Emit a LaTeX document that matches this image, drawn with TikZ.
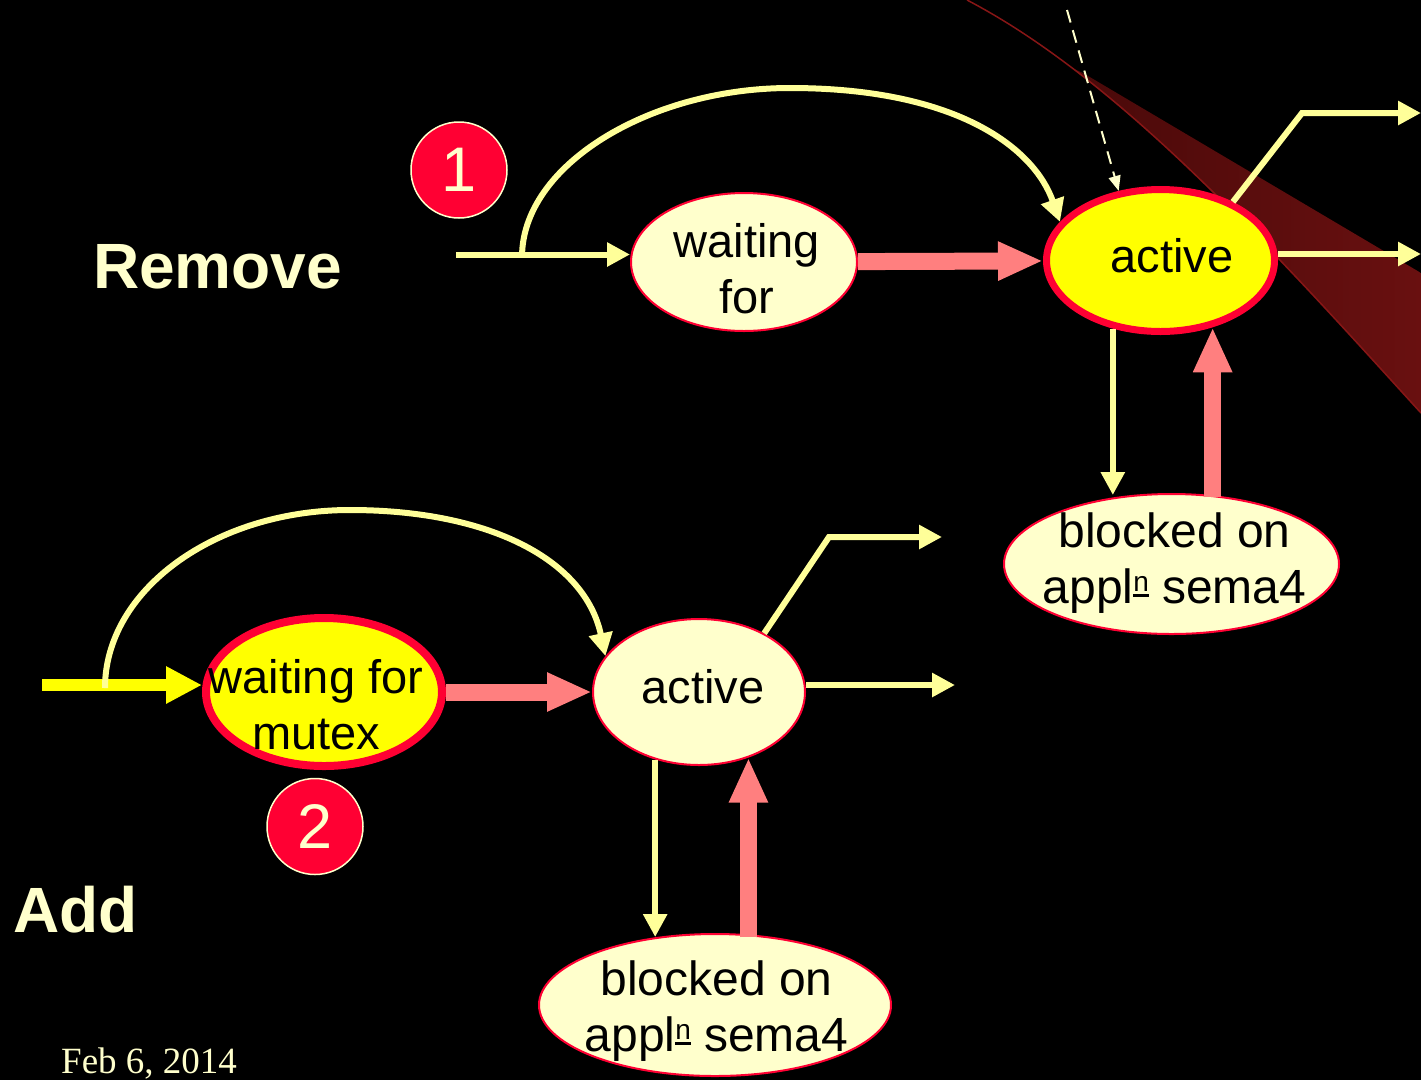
\documentclass[tikz,border=0pt]{standalone}
\usepackage{fontspec}
\setmainfont{Liberation Sans}
\newfontfamily\datefont{Liberation Serif}
\usetikzlibrary{arrows.meta,shapes.geometric}

\definecolor{cream}{HTML}{FFFFCC}
\definecolor{creamarrow}{HTML}{FFFF99}
\definecolor{alertred}{HTML}{FF0033}
\definecolor{pinkarrow}{HTML}{FF7F7F}
\definecolor{brightyellow}{HTML}{FFFF00}
\definecolor{swooshdark}{RGB}{58,6,6}
\definecolor{swooshlight}{RGB}{105,16,16}
\definecolor{swooshline}{RGB}{135,22,22}

% raised, underlined "n" of appl^n
\newcommand\applsup{\raisebox{12pt}{\fontsize{28}{28}\selectfont\setbox0\hbox{n}\rlap{\rule[-5.5pt]{\wd0}{3pt}}n}}

\tikzset{
  statebox/.style={ellipse, draw=alertred, fill=cream, line width=2pt, inner sep=0pt},
  hotstate/.style={statebox, fill=brightyellow, line width=7pt},
  statetext/.style={font=\fontsize{47}{56}\selectfont, align=center, inner sep=0pt, text=black},
  heading/.style={font=\bfseries\fontsize{64}{64}\selectfont, text=cream, anchor=base west, inner sep=0pt},
  badge/.style={circle, fill=alertred, draw=cream, line width=1.5pt, minimum size=96pt,
    inner sep=0pt, text=cream, font=\fontsize{63}{63}\selectfont},
  flow/.style={draw=creamarrow, line width=6pt, -{Triangle[length=23pt,width=23pt]}},
  bigflow/.style={draw=pinkarrow, line width=17pt, -{Triangle[length=45pt,width=36pt]}},
  entryflow/.style={draw=brightyellow, line width=12pt, -{Triangle[length=36pt,width=35pt]}},
  hintflow/.style={draw=cream, line width=2pt, dash pattern=on 13pt off 8pt,
    -{Triangle[length=15pt,width=12pt]}},
}

\begin{document}
\begin{tikzpicture}[x=1pt,y=-1pt]
\useasboundingbox (0,0) rectangle (1421,1080);
\fill[black] (0,0) rectangle (1421,1080);

% decorative swoosh
\begin{scope}
  \clip (967,0) .. controls (1120,80) and (1271,248) .. (1421,413) -- (1421,0) -- cycle;
  \shade[left color=swooshdark, right color=swooshlight]
    (900,-10) -- (1083,73) -- (1421,273) -- (1421,500) -- (900,500) -- cycle;
\end{scope}
\draw[swooshline, line width=1.5pt] (967,0) .. controls (1120,80) and (1271,248) .. (1421,413);

% headings and date
\node[heading] (remove) at (93,288) {Remove};
\node[heading] (add) at (13,932) {Add};
\node[font=\datefont\fontsize{37}{37}\selectfont, text=cream, anchor=base west, inner sep=0pt]
  (date) at (61,1073) {Feb 6, 2014};

% badges
\node[badge] (n1) at (459,170) {1};
\node[badge] (n2) at (315,826.5) {2};

% Remove: states
\node[statebox, minimum width=226pt, minimum height=138pt] (w1) at (744,262) {};
\node[hotstate, minimum width=228pt, minimum height=142pt] (a1) at (1160.5,260.5) {};
\node[statebox, minimum width=335pt, minimum height=140pt] (b1) at (1171.5,564) {};
\node[statetext] (w1t) at (747,269) {waiting\\for};
\node[statetext, anchor=base] (a1t) at (1172,272) {active};
\node[statetext, font=\fontsize{48}{56}\selectfont] (b1t) at (1174.5,563) {blocked on\\appl\applsup{} sema4};

% Add: states
\node[hotstate, line width=8pt, minimum width=236pt, minimum height=148pt] (m2) at (324,692) {};
\node[statebox, minimum width=212pt, minimum height=146pt] (a2) at (699,692) {};
\node[statebox, minimum width=352pt, minimum height=142pt] (b2) at (715,1005) {};
\node[statetext] (m2t) at (316,704.5) {waiting for\\mutex};
\node[statetext, anchor=base] (a2t) at (703,703) {active};
\node[statetext, font=\fontsize{48}{56}\selectfont] (b2t) at (716.5,1011) {blocked on\\appl\applsup{} sema4};

% Remove: transitions
\coordinate (in1) at (456,254.5);
\coordinate (j1) at (522,257);
\draw[flow] (in1) -- (in1 -| w1.west);
\draw[flow] (j1) .. controls (522,165) and (650,88) .. (790,88)
  .. controls (960,88) and (1035,150) .. (a1.159);
\draw[bigflow] (w1) -- (a1);
\coordinate (d0) at (1067,10);
\draw[hintflow] (d0) -- (a1.121);
\coordinate (o1a) at (1302,113);
\coordinate (o1b) at (1421,113);
\draw[flow] (a1.39) -- (o1a) -- (o1b);
\coordinate (o2) at (1421,254);
\draw[flow] (o2 -| a1.east) -- (o2);
\draw[flow] (a1.235) -- ([yshift=-2pt]a1.235 |- b1.north);
\draw[bigflow] ([yshift=-4pt]a1.308 |- b1.north) -- (a1.308);

% Add: transitions
\coordinate (in2) at (42,685);
\coordinate (j2) at (105,688);
\draw[entryflow] (in2) -- (in2 -| m2.west);
\draw[flow] (j2) .. controls (105,590) and (215,510) .. (350,510)
  .. controls (490,510) and (585,560) .. (a2.159);
\draw[bigflow] (m2) -- (a2);
\coordinate (o3a) at (829,537);
\coordinate (o3b) at (942,537);
\draw[flow] (a2.42) -- (o3a) -- (o3b);
\coordinate (o4) at (955,685);
\draw[flow] (o4 -| a2.east) -- (o4);
\draw[flow] (a2.237) -- ([yshift=-4pt]a2.237 |- b2.north);
\draw[bigflow] ([yshift=-4pt]a2.307 |- b2.north) -- (a2.307);
\end{tikzpicture}
\end{document}
